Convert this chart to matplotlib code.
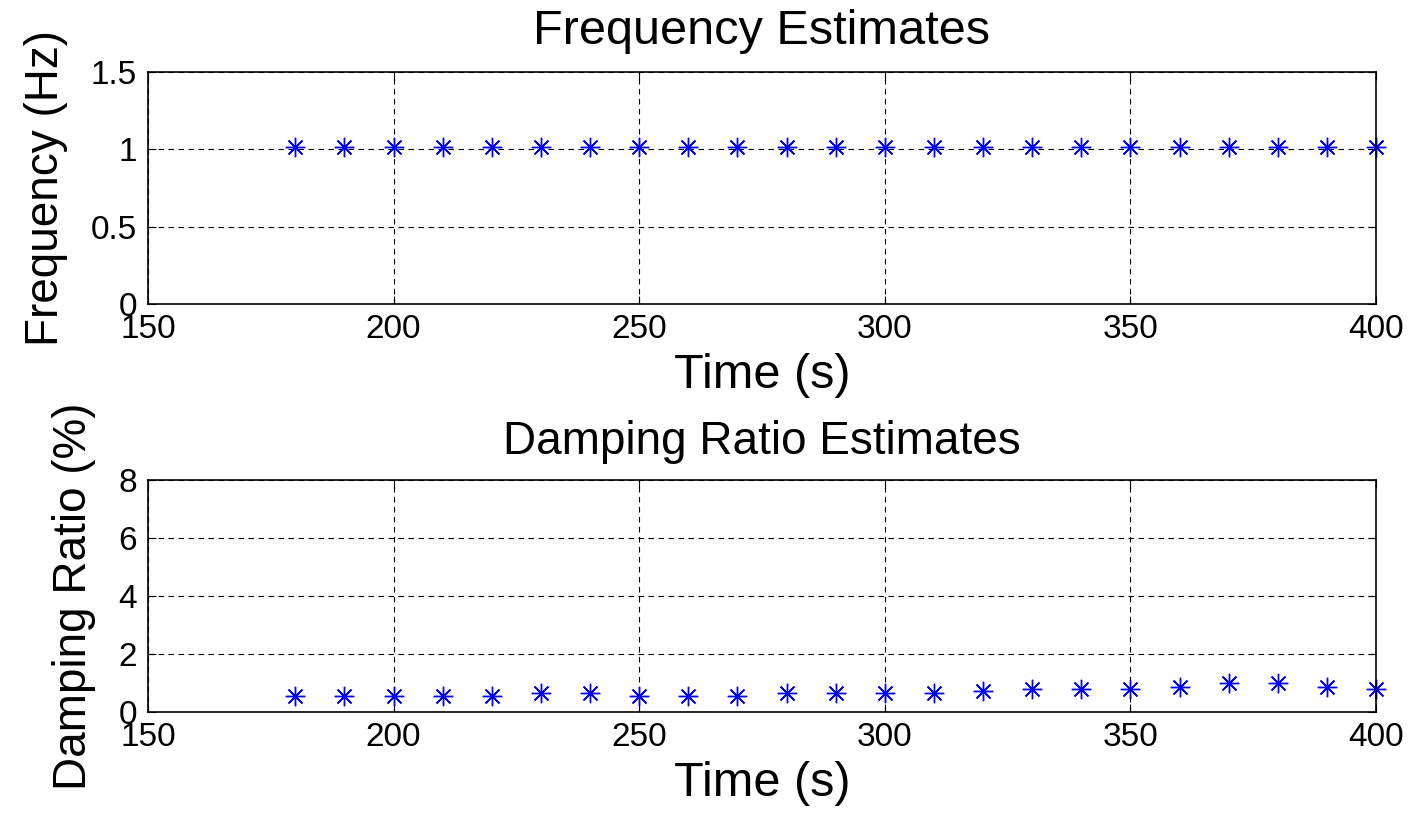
import matplotlib.pyplot as plt
import numpy as np

plt.rcParams['font.family'] = ['Liberation Sans', 'DejaVu Sans']

time_s = [180, 190, 200, 210, 220, 230, 240, 250, 260, 270, 280, 290,
          300, 310, 320, 330, 340, 350, 360, 370, 380, 390, 400]
freq_hz = [1.013] * 23
damping_pct = [0.55, 0.55, 0.55, 0.55, 0.55, 0.67, 0.67, 0.55, 0.55, 0.55,
               0.64, 0.64, 0.64, 0.64, 0.73, 0.80, 0.80, 0.80, 0.87, 0.99,
               0.99, 0.87, 0.80]

fig = plt.figure(figsize=(14.12, 8.13), dpi=100)
ax1 = fig.add_axes([0.1048, 0.6261, 0.8697, 0.2853])
ax2 = fig.add_axes([0.1048, 0.1242, 0.8697, 0.2854])

# asterisk marker: + and x on top of each other
star = (8, 2, 0)


def style(ax):
    ax.set_xlim(150, 400)
    ax.set_xticks([150, 200, 250, 300, 350, 400])
    ax.grid(True, color='black', linestyle=(0, (5, 4)), linewidth=0.8)
    ax.tick_params(direction='in', top=True, right=True, labelsize=24,
                   length=6, width=0.8)
    ax.tick_params(axis='x', pad=7)
    ax.tick_params(axis='y', pad=8)
    for s in ax.spines.values():
        s.set_linewidth(1.2)
    ax.set_axisbelow(True)


ax1.plot(time_s, freq_hz, linestyle='none', marker=star, markersize=14,
         markeredgecolor='blue', markeredgewidth=1.0, clip_on=False)
style(ax1)
ax1.set_ylim(0, 1.5)
ax1.set_yticks([0, 0.5, 1, 1.5])
ax1.set_yticklabels(['0', '0.5', '1', '1.5'])
ax1.set_title('Frequency Estimates', fontsize=35, pad=20)
ax1.set_xlabel('Time (s)', fontsize=35, labelpad=6)
ax1.set_ylabel('Frequency (Hz)', fontsize=33, labelpad=16)

ax2.plot(time_s, damping_pct, linestyle='none', marker=star, markersize=14,
         markeredgecolor='blue', markeredgewidth=1.0, clip_on=False)
style(ax2)
ax2.set_ylim(0, 8)
ax2.set_yticks([0, 2, 4, 6, 8])
ax2.set_title('Damping Ratio Estimates', fontsize=33, pad=19)
ax2.set_xlabel('Time (s)', fontsize=35, labelpad=6)
ax2.set_ylabel('Damping Ratio (%)', fontsize=33, labelpad=16)

fig.savefig('out.png', dpi=100)
